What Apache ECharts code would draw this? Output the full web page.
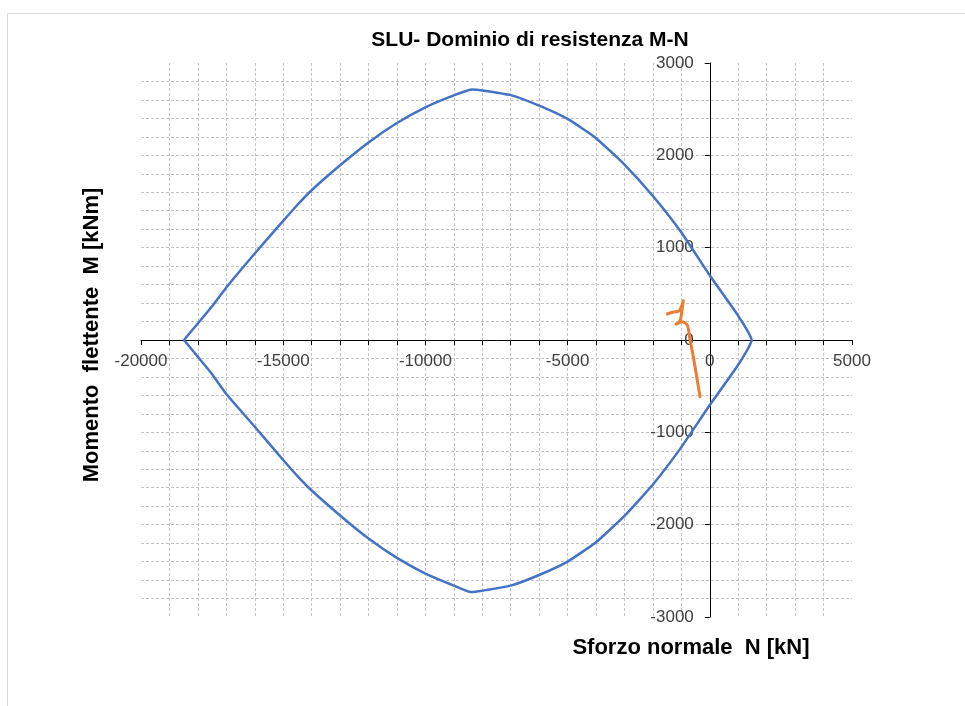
<!DOCTYPE html>
<html>
<head>
<meta charset="utf-8">
<title>SLU- Dominio di resistenza M-N</title>
<script src="https://cdn.jsdelivr.net/npm/echarts@6/dist/echarts.min.js"></script>
<style>
  html, body { margin: 0; padding: 0; background: #fff; }
  #chart { width: 965px; height: 706px; }
</style>
</head>
<body>
<div id="chart"></div>
<script>
// dominio M-N, ramo superiore (da sinistra a destra)
const upperN = [-18490, -17514, -17000, -16000, -15000, -14480, -14000, -13000, -12000, -11000, -10000, -9000, -8350, -8000, -7000, -6000, -5000, -4000, -3000, -2000, -1000, 0, 1000, 1469]
const upperM = [0, 360, 569, 937, 1290, 1470, 1622, 1892, 2140, 2350, 2520, 2649, 2712, 2703, 2652, 2538, 2394, 2186, 1900, 1559, 1165, 699, 262, 0]
// ramo inferiore (da destra a sinistra)
const lowerN = [1469, 1000, 0, -1000, -2000, -3000, -4000, -5000, -6000, -7000, -8000, -8400, -9000, -10000, -11000, -12000, -13000, -14000, -14480, -15000, -16000, -17000, -17514, -18490]
const lowerM = [0, -268, -704, -1160, -1565, -1905, -2190, -2400, -2545, -2660, -2715, -2730, -2660, -2530, -2360, -2150, -1900, -1630, -1480, -1300, -940, -585, -365, 0]
// sollecitazioni (tratto arancione)
const loadN = [-1494, -1283, -1072, -932, -977, -1023, -1108, -1188, -988, -791, -696, -580, -461, -345]
const loadM = [282, 303, 317, 426, 325, 235, 181, 173, 198, 162, 0, -181, -397, -614]

const xMin = -20000
const xMax = 5000
const yMin = -3000
const yMax = 3000

const zip = (a, b) => a.map((v, i) => [v, b[i]])

// area del grafico in pixel
const gLeft = 141
const gRight = 113
const gTop = 63
const gBottom = 89
const plotW = 965 - gLeft - gRight
const plotH = 706 - gTop - gBottom
// assi che passano per lo zero
const xAxisOffset = -plotH * (0 - yMin) / (yMax - yMin)
const yAxisOffset = -plotW * (0 - xMin) / (xMax - xMin)

const gridStyle = { color: '#c3c3c3', type: [3, 2], width: 1 }
const labelStyle = { color: '#404040', fontSize: 17, fontFamily: 'Liberation Sans, Arial, sans-serif', formatter: (v) => String(v) }
const nameFont = { fontSize: 22, fontWeight: 'bold', fill: '#000', fontFamily: 'Liberation Sans, Arial, sans-serif' }

const chart = echarts.init(document.getElementById('chart'))

chart.setOption({
  animation: false,
  backgroundColor: '#fff',
  grid: { left: gLeft, right: gRight, top: gTop, bottom: gBottom },
  graphic: [
    { type: 'rect', shape: { x: 7.5, y: 13.5, width: 1000, height: 1000 }, style: { fill: 'none', stroke: '#d9d9d9', lineWidth: 1 }, silent: true, z: -1 },
    { type: 'text', x: 530, y: 40, style: { text: 'SLU- Dominio di resistenza M-N', align: 'center', verticalAlign: 'middle', fontSize: 21, fontWeight: 'bold', fill: '#000', fontFamily: 'Liberation Sans, Arial, sans-serif' } },
    { type: 'text', x: 691, y: 648, style: Object.assign({ text: 'Sforzo normale  N [kN]', align: 'center', verticalAlign: 'middle' }, nameFont) },
    { type: 'text', x: 92, y: 335, rotation: Math.PI / 2, style: Object.assign({ text: 'Momento  flettente  M [kNm]', align: 'center', verticalAlign: 'middle' }, nameFont) },
  ],
  xAxis: {
    type: 'value',
    position: 'bottom',
    offset: xAxisOffset,
    min: xMin,
    max: xMax,
    interval: 5000,
    axisLine: { show: true, onZero: false, lineStyle: { color: '#000', width: 1 } },
    axisTick: { show: true, length: 5, lineStyle: { color: '#000' } },
    minorTick: { show: true, splitNumber: 5, length: 5, lineStyle: { color: '#000' } },
    splitLine: { show: true, showMinLine: false, showMaxLine: false, lineStyle: gridStyle },
    minorSplitLine: { show: true, lineStyle: gridStyle },
    axisLabel: Object.assign({ margin: 13 }, labelStyle),
  },
  yAxis: {
    type: 'value',
    position: 'left',
    offset: yAxisOffset,
    min: yMin,
    max: yMax,
    interval: 1000,
    axisLine: { show: true, onZero: false, lineStyle: { color: '#000', width: 1 } },
    axisTick: { show: true, length: 5, lineStyle: { color: '#000' } },
    minorTick: { show: false, splitNumber: 5 },
    splitLine: { show: true, showMinLine: false, showMaxLine: false, lineStyle: gridStyle },
    minorSplitLine: { show: true, lineStyle: gridStyle },
    axisLabel: Object.assign({ margin: 16 }, labelStyle),
  },
  series: [
    {
      name: 'Dominio',
      type: 'line',
      data: zip(upperN, upperM).concat(zip(lowerN, lowerM)),
      showSymbol: false,
      symbol: 'none',
      smooth: 0.15,
      lineStyle: { color: '#4472C4', width: 2.5 },
      z: 3,
    },
    {
      name: 'Sollecitazioni',
      type: 'line',
      data: zip(loadN, loadM),
      showSymbol: false,
      symbol: 'none',
      smooth: 0.3,
      lineStyle: { color: '#ED7D31', width: 3, cap: 'round', join: 'round' },
      z: 4,
    },
  ],
})

window.addEventListener('resize', () => chart.resize())
</script>
</body>
</html>
